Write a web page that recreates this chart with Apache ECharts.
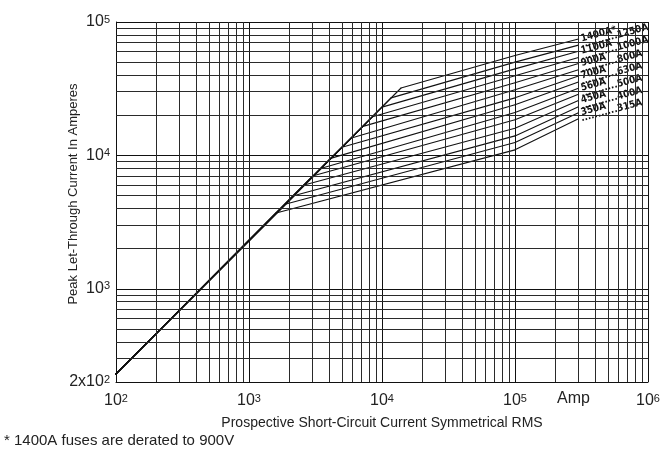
<!DOCTYPE html>
<html>
<head>
<meta charset="utf-8">
<script src="https://cdn.jsdelivr.net/npm/echarts@6/dist/echarts.min.js"></script>
<style>
  html, body { margin: 0; padding: 0; background: #fff; }
  #chart { width: 665px; height: 449px; }
</style>
</head>
<body>
<div id="chart"></div>
<script>
// fuse ratings, top curve first
const fuses = ['1400A*', '1250A', '1100A', '1000A', '900A', '800A', '700A',
               '630A', '560A', '500A', '450A', '400A', '350A', '315A'];
// where each curve leaves the available-peak line (A rms, A peak)
const kneeCurrent = [13900, 11700, 10000, 8500, 7200, 5900, 5000, 4100, 3500, 3000, 2600, 2200, 1870, 1600];
const kneePeak    = [32000, 27000, 23000, 19500, 16500, 13500, 11500, 9500, 8000, 7000, 6000, 5000, 4300, 3700];
// let-through at 100 kA and at the end of the curve (300 kA)
const peakAt100k  = [56000, 50000, 44500, 39500, 35000, 31000, 27000, 24000, 21000, 18500, 16000, 14000, 12500, 11000];
const peakAtEnd   = [74600, 67100, 60300, 54200, 48800, 43900, 39400, 35500, 31900, 28700, 25800, 23200, 20900, 18800];
const startPoint  = [100, 230];
const endCurrent  = 300000;

const minorMult = [2, 3, 4, 5, 6, 7, 8, 9];
const xDecades = [100, 1000, 10000, 100000];
const yDecades = [100, 1000, 10000];

const xMinor = [];
xDecades.forEach(d => minorMult.forEach(m => xMinor.push(d * m)));
const yMinor = [];
yDecades.forEach(d => minorMult.forEach(m => { if (d * m > 200) yMinor.push(d * m); }));

function supLabel(v) {
  const e = Math.log10(v);
  const n = Math.round(e);
  if (Math.abs(e - n) < 1e-6) return '{b|10}{s|' + n + '}';
  const f = Math.floor(e + 1e-9);
  const m = Math.round(v / Math.pow(10, f));
  return '{b|' + m + 'x10}{s|' + f + '}';
}
const richSup = {
  b: { fontSize: 16, color: '#222', fontFamily: 'Liberation Sans' },
  s: { fontSize: 11, color: '#222', fontFamily: 'Liberation Sans', verticalAlign: 'top' }
};

const gridColor = '#2a2a2a';

const series = fuses.map((name, i) => {
  const secondCol = i % 2 === 1;
  return {
    name,
    type: 'line',
    symbol: 'circle',
    symbolSize: 1,
    showSymbol: true,
    animation: false,
    itemStyle: { color: '#111' },
    lineStyle: { color: '#111', width: 1.1 },
    label: { show: false },
    data: [
      startPoint,
      [kneeCurrent[i], kneePeak[i]],
      [100000, peakAt100k[i]],
      {
        value: [endCurrent, peakAtEnd[i]],
        label: {
          show: true,
          position: 'right',
          distance: 2,
          rotate: 15,
          formatter: secondCol ? '...........' + name : name,
          fontFamily: 'DejaVu Sans Condensed, Liberation Sans Narrow, Liberation Sans',
          fontWeight: 'bold',
          fontSize: 10,
          color: '#111'
        }
      }
    ]
  };
});

series[0].markLine = {
  silent: true,
  symbol: ['none', 'none'],
  animation: false,
  label: { show: false },
  lineStyle: { type: 'solid', color: gridColor, width: 1 },
  data: xMinor.map(v => ({ xAxis: v })).concat(yMinor.map(v => ({ yAxis: v })))
};

const chart = echarts.init(document.getElementById('chart'));
chart.setOption({
  backgroundColor: '#fff',
  grid: { left: 116, right: 17, top: 22, bottom: 67 },
  xAxis: {
    type: 'log',
    logBase: 10,
    min: 100,
    max: 1000000,
    name: 'Prospective Short-Circuit Current Symmetrical RMS',
    nameLocation: 'middle',
    nameGap: 34,
    nameMoveOverlap: false,
    nameTextStyle: { fontSize: 14, color: '#222', fontFamily: 'Liberation Sans', verticalAlign: 'top' },
    axisLine: { lineStyle: { color: '#111', width: 1 } },
    axisTick: { show: false },
    axisLabel: { margin: 11, formatter: supLabel, rich: richSup },
    splitLine: { show: true, lineStyle: { color: '#111', width: 1 } }
  },
  yAxis: {
    type: 'log',
    logBase: 10,
    min: 200,
    max: 100000,
    name: 'Peak Let-Through Current In Amperes',
    nameLocation: 'middle',
    nameGap: 36,
    nameMoveOverlap: false,
    nameTextStyle: { fontSize: 13, color: '#222', fontFamily: 'Liberation Sans', padding: [0, 0, 0, 16] },
    axisLine: { lineStyle: { color: '#111', width: 1 } },
    axisTick: { show: false },
    axisLabel: { margin: 6, formatter: supLabel, rich: richSup },
    splitLine: { show: true, lineStyle: { color: '#111', width: 1 } }
  },
  graphic: [
    {
      type: 'text', left: 557, top: 391,
      style: { text: 'Amp', fontSize: 16, fill: '#222', fontFamily: 'Liberation Sans' }
    },
    {
      type: 'text', left: 4, top: 433,
      style: { text: '* 1400A fuses are derated to 900V', fontSize: 15, fill: '#222', fontFamily: 'Liberation Sans' }
    }
  ],
  series
});
</script>
</body>
</html>
